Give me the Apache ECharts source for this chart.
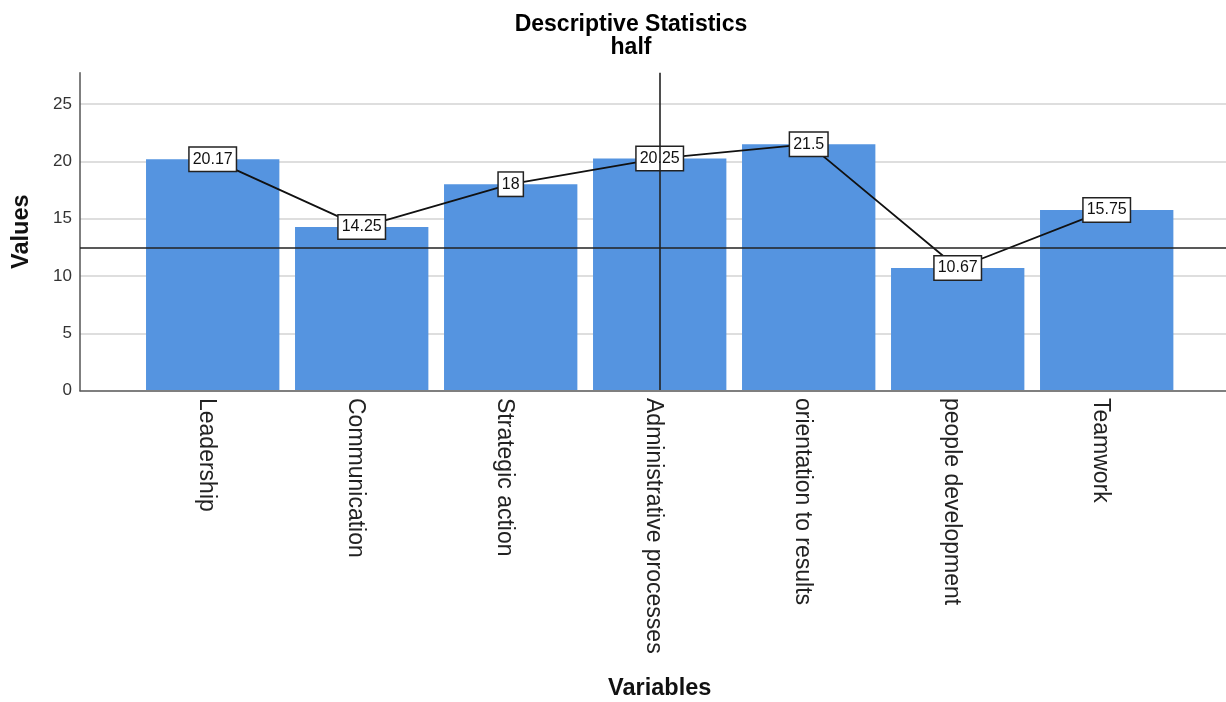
<!DOCTYPE html>
<html>
<head>
<meta charset="utf-8">
<script src="https://cdn.jsdelivr.net/npm/echarts@6/dist/echarts.min.js"></script>
<style>
  html, body { margin: 0; padding: 0; background: #ffffff; }
  #chart { width: 1226px; height: 702px; }
</style>
</head>
<body>
<div id="chart"></div>
<script>
// Chart data
const categories = [
  'Leadership',
  'Communication',
  'Strategic action',
  'Administrative processes',
  'orientation to results',
  'people development',
  'Teamwork'
];
const values = [20.17, 14.25, 18, 20.25, 21.5, 10.67, 15.75];
const yTicks = [0, 5, 10, 15, 20, 25];
const yMax = 27.75;
const referenceValue = 12.45;
const referenceCategory = 'Administrative processes';
const titleLines = ['Descriptive Statistics', 'half'];
const xAxisTitle = 'Variables';
const yAxisTitle = 'Values';

const FONT = "'Liberation Sans', Arial, Helvetica, sans-serif";
const BAR_COLOR = '#5594e0';
const PLOT_TOP = 72.7;
const PLOT_BOTTOM = 311.3;

const chart = echarts.init(document.getElementById('chart'), null, { renderer: 'canvas' });

const option = {
  animation: false,
  backgroundColor: '#ffffff',
  textStyle: { fontFamily: FONT },
  graphic: titleLines.map((t, i) => ({
    type: 'text',
    x: 631,
    y: 24.5 + i * 23,
    style: {
      text: t,
      fill: '#000000',
      font: 'bold 23px ' + FONT,
      textAlign: 'center',
      textVerticalAlign: 'middle'
    }
  })),
  grid: [
    // frame: value axis, gridlines, full-width reference line
    { left: 80, right: 0, top: PLOT_TOP, bottom: PLOT_BOTTOM, containLabel: false },
    // category band holding the bars
    { left: 138.2, right: 44.8, top: PLOT_TOP, bottom: PLOT_BOTTOM, containLabel: false }
  ],
  xAxis: [
    {
      type: 'value', gridIndex: 0, min: 0, max: 1, position: 'bottom', z: 5,
      axisLine: { show: true, lineStyle: { color: '#555555', width: 1.5 } },
      axisTick: { show: false }, axisLabel: { show: false }, splitLine: { show: false }
    },
    {
      type: 'category', gridIndex: 1, data: categories, position: 'bottom',
      axisLine: { show: false }, axisTick: { show: false },
      axisLabel: {
        interval: 0, rotate: -90, margin: 8,
        fontSize: 23, color: '#222222', fontFamily: FONT,
        verticalAlign: 'top', lineHeight: 12
      },
      name: xAxisTitle, nameLocation: 'middle', nameGap: 287,
      nameTextStyle: { fontSize: 23.5, fontWeight: 'bold', color: '#111111', fontFamily: FONT }
    }
  ],
  yAxis: [
    {
      type: 'value', gridIndex: 0,
      min: yTicks[0], max: yMax, interval: yTicks[1] - yTicks[0],
      axisLine: { show: true, lineStyle: { color: '#555555', width: 1.5 } },
      axisTick: { show: false },
      axisLabel: { fontSize: 17, color: '#333333', margin: 8, showMaxLabel: false, fontFamily: FONT },
      splitLine: { show: true, showMaxLine: false, showMinLine: false, lineStyle: { color: '#d3d3d3', width: 1.5 } },
      name: yAxisTitle, nameLocation: 'middle', nameRotate: 90, nameGap: 46,
      nameTextStyle: { fontSize: 23.5, fontWeight: 'bold', color: '#111111', fontFamily: FONT }
    },
    {
      type: 'value', gridIndex: 1, min: yTicks[0], max: yMax, show: false
    }
  ],
  series: [
    {
      type: 'bar', xAxisIndex: 1, yAxisIndex: 1,
      data: values,
      barCategoryGap: '10.5%',
      itemStyle: { color: BAR_COLOR },
      z: 2
    },
    {
      type: 'line', xAxisIndex: 1, yAxisIndex: 1,
      data: values,
      symbol: 'circle', symbolSize: 1, showSymbol: true,
      itemStyle: { color: '#000000' },
      lineStyle: { color: '#111111', width: 1.8 },
      label: {
        show: true, position: 'inside',
        fontSize: 16, color: '#111111', fontFamily: FONT,
        backgroundColor: '#ffffff', borderColor: '#222222', borderWidth: 1.5,
        padding: [4, 3, 3, 3]
      },
      z: 3
    },
    {
      type: 'line', xAxisIndex: 0, yAxisIndex: 0, data: [],
      z: 6,
      markLine: {
        silent: true, symbol: ['none', 'none'],
        label: { show: false },
        lineStyle: { color: '#222222', width: 1.6, type: 'solid' },
        data: [{ yAxis: referenceValue }]
      }
    },
    {
      type: 'line', xAxisIndex: 1, yAxisIndex: 1, data: [],
      z: 10,
      markLine: {
        silent: true, symbol: ['none', 'none'],
        label: { show: false },
        lineStyle: { color: '#222222', width: 1.6, type: 'solid' },
        data: [{ xAxis: referenceCategory }]
      }
    }
  ]
};

chart.setOption(option);
</script>
</body>
</html>
